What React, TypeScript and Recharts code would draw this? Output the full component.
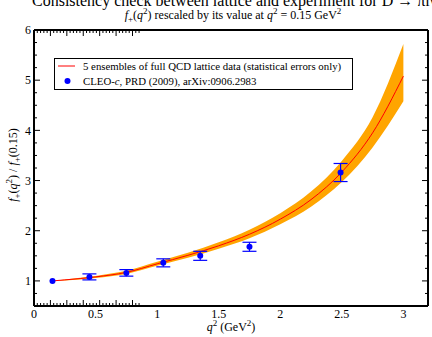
import React from "react";
import { ComposedChart, XAxis, YAxis, Area, Line, Scatter, ErrorBar } from "recharts";

// lattice fit, ratio f+(q2)/f+(0.15)
const curveQ2 = [0.15, 0.25, 0.5, 0.75, 1.0, 1.25, 1.5, 1.75, 2.0, 2.25, 2.5, 2.75, 3.0];
const curveMid = [1.0, 1.02, 1.08, 1.17, 1.34, 1.51, 1.7, 1.93, 2.23, 2.62, 3.17, 3.95, 5.08];
const bandLow = [1.0, 1.01, 1.06, 1.14, 1.3, 1.46, 1.64, 1.85, 2.13, 2.48, 2.97, 3.66, 4.58];
const bandHigh = [1.0, 1.03, 1.1, 1.2, 1.38, 1.56, 1.77, 2.02, 2.35, 2.78, 3.39, 4.26, 5.72];

// CLEO-c points
const cleoQ2 = [0.45, 0.75, 1.05, 1.35, 1.75, 2.49];
const cleoRatio = [1.08, 1.16, 1.36, 1.5, 1.68, 3.16];
const cleoErr = [0.06, 0.065, 0.08, 0.09, 0.09, 0.18];
const normQ2 = [0.15];
const normRatio = [1.0];

const xMajor = [0, 0.5, 1, 1.5, 2, 2.5, 3];
const yMajor = [1, 2, 3, 4, 5, 6];
const xMinor = Array.from({ length: 33 }, (_, i) => +(i * 0.1).toFixed(1));
const yMinor = Array.from({ length: 23 }, (_, i) => 0.5 + i * 0.25);

const curveData = curveQ2.map((q, i) => ({ q, mid: curveMid[i], band: [bandLow[i], bandHigh[i]] }));
const cleoData = cleoQ2.map((q, i) => ({ q, v: cleoRatio[i], err: cleoErr[i] }));
const normData = normQ2.map((q, i) => ({ q, v: normRatio[i] }));

const FONT = "'Liberation Serif', 'DejaVu Serif', serif";

const isMajor = (v: number, majors: number[]) => majors.some((m) => Math.abs(m - v) < 1e-6);

function TickMark(props: any) {
  const { x, y, payload, side, majors } = props;
  const len = isMajor(payload.value, majors) ? 6 : 3;
  let dx = 0;
  let dy = 0;
  if (side === "left") dx = len;
  if (side === "right") dx = -len;
  if (side === "bottom") dy = -len;
  if (side === "top") dy = len;
  return <line x1={x} y1={y} x2={x + dx} y2={y + dy} stroke="#000" strokeWidth={1} />;
}

const dot = (props: any) => <circle cx={props.cx} cy={props.cy} r={3} fill="#0000ff" />;

export default function App() {
  const frame = { stroke: "#000", strokeWidth: 2 };
  return (
    <div style={{ position: "absolute", left: 0, top: 0, width: 432, height: 337, background: "#fff", fontFamily: FONT }}>
      <ComposedChart width={432} height={337} data={curveData} margin={{ top: 30, right: 4, bottom: 0, left: 0 }}>
        <XAxis xAxisId="x" dataKey="q" type="number" domain={[0, 3.2]} ticks={xMajor} interval={0}
          allowDataOverflow tickLine={false} tickSize={0} tickMargin={3} height={31}
          axisLine={frame} tick={{ fill: "#000", fontSize: 12, fontFamily: FONT }} />
        <XAxis xAxisId="xb" type="number" domain={[0, 3.2]} ticks={xMinor} interval={0} allowDataOverflow
          mirror orientation="bottom" tickLine={false} tickSize={0} tickMargin={0} axisLine={false}
          tick={(p: any) => <TickMark {...p} side="bottom" majors={xMajor} />} />
        <XAxis xAxisId="xt" type="number" domain={[0, 3.2]} ticks={xMinor} interval={0} allowDataOverflow
          mirror orientation="top" tickLine={false} tickSize={0} tickMargin={0} axisLine={frame}
          tick={(p: any) => <TickMark {...p} side="top" majors={xMajor} />} />
        <YAxis yAxisId="y" type="number" domain={[0.5, 6]} ticks={yMajor} interval={0} allowDataOverflow
          width={34} tickLine={false} tickSize={0} tickMargin={3} axisLine={frame}
          tick={{ fill: "#000", fontSize: 12, fontFamily: FONT }} />
        <YAxis yAxisId="yl" type="number" domain={[0.5, 6]} ticks={yMinor} interval={0} allowDataOverflow
          mirror orientation="left" tickLine={false} tickSize={0} tickMargin={0} axisLine={false}
          tick={(p: any) => <TickMark {...p} side="left" majors={yMajor} />} />
        <YAxis yAxisId="yr" type="number" domain={[0.5, 6]} ticks={yMinor} interval={0} allowDataOverflow
          mirror orientation="right" tickLine={false} tickSize={0} tickMargin={0} axisLine={frame}
          tick={(p: any) => <TickMark {...p} side="right" majors={yMajor} />} />

        <Area xAxisId="x" yAxisId="y" type="monotone" dataKey="band" stroke="none" fill="#ffa500"
          fillOpacity={1} isAnimationActive={false} />
        <Line xAxisId="x" yAxisId="y" type="monotone" dataKey="mid" stroke="#ff0000" strokeWidth={1}
          dot={false} isAnimationActive={false} />
        <Scatter xAxisId="x" yAxisId="y" data={normData} dataKey="v" shape={dot} isAnimationActive={false} />
        <Scatter xAxisId="x" yAxisId="y" data={cleoData} dataKey="v" shape={dot} isAnimationActive={false}>
          <ErrorBar dataKey="err" direction="y" width={7} stroke="#0000ff" strokeWidth={1.2} />
        </Scatter>
      </ComposedChart>

      <svg width={432} height={337} style={{ position: "absolute", left: 0, top: 0, pointerEvents: "none" }}
        fontFamily={FONT} fill="#000">
        <text x={32} y={5.5} fontSize={16}>Consistency check between lattice and experiment for D → πlν</text>
        <text x={233} y={18.5} fontSize={12} textAnchor="middle">
          <tspan fontStyle="italic">f</tspan>
          <tspan fontSize={9} dy={3}>+</tspan>
          <tspan dy={-3}>(</tspan>
          <tspan fontStyle="italic">q</tspan>
          <tspan fontSize={9} dy={-5}>2</tspan>
          <tspan dy={5}>) rescaled by its value at </tspan>
          <tspan fontStyle="italic">q</tspan>
          <tspan fontSize={9} dy={-5}>2</tspan>
          <tspan dy={5}> = 0.15 GeV</tspan>
          <tspan fontSize={9} dy={-5}>2</tspan>
        </text>

        <text transform="translate(17,165) rotate(-90)" fontSize={12} textAnchor="middle">
          <tspan fontStyle="italic">f</tspan>
          <tspan fontSize={9} dy={3}>+</tspan>
          <tspan dy={-3}>(</tspan>
          <tspan fontStyle="italic">q</tspan>
          <tspan fontSize={9} dy={-5}>2</tspan>
          <tspan dy={5}>) / </tspan>
          <tspan fontStyle="italic">f</tspan>
          <tspan fontSize={9} dy={3}>+</tspan>
          <tspan dy={-3}>(0.15)</tspan>
        </text>

        <text x={231} y={331} fontSize={12} textAnchor="middle">
          <tspan fontStyle="italic">q</tspan>
          <tspan fontSize={9} dy={-5}>2</tspan>
          <tspan dy={5}> (GeV</tspan>
          <tspan fontSize={9} dy={-5}>2</tspan>
          <tspan dy={5}>)</tspan>
        </text>

        <rect x={54.5} y={58.5} width={298} height={31} fill="#fff" stroke="#000" strokeWidth={1} />
        <line x1={58} y1={66} x2={75} y2={66} stroke="#ff0000" strokeWidth={1} />
        <text x={83} y={69.5} fontSize={10.8}>5 ensembles of full QCD lattice data (statistical errors only)</text>
        <circle cx={67.5} cy={81} r={3} fill="#0000ff" />
        <text x={83} y={84.5} fontSize={10.8}>
          CLEO-<tspan fontStyle="italic">c</tspan>, PRD (2009), arXiv:0906.2983
        </text>
      </svg>
    </div>
  );
}
